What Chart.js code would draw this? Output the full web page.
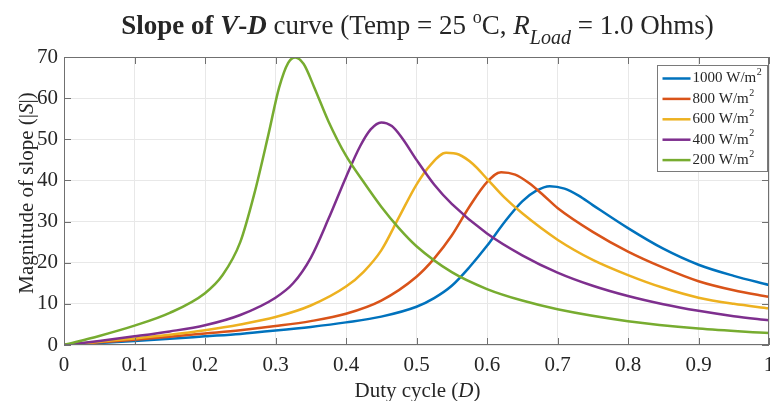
<!DOCTYPE html>
<html>
<head>
<meta charset="utf-8">
<title>Slope of V-D curve</title>
<script src="https://cdn.jsdelivr.net/npm/chart.js@4.4.1/dist/chart.umd.min.js"></script>
<style>
  html, body { margin: 0; padding: 0; background: #fff; overflow: hidden; }
  canvas { display: block; }
</style>
</head>
<body>
<canvas id="slopeChart" width="770" height="401"></canvas>
<script>
// one curve per irradiance level (W/m^2)
const irradiance = [1000, 800, 600, 400, 200];
const lineColors = ['#0072BD', '#D95319', '#EDB120', '#7E2F8E', '#77AC30'];

const duty1000 = [0, 0.05, 0.1, 0.15, 0.2, 0.25, 0.3, 0.35, 0.4, 0.45, 0.5, 0.525, 0.55, 0.575, 0.6, 0.625, 0.65, 0.67, 0.689, 0.71, 0.73, 0.75, 0.8, 0.85, 0.9, 0.95, 1.0];
const slope1000 = [0, 0.5, 1.0, 1.5, 2.1, 2.7, 3.5, 4.4, 5.5, 6.9, 9.3, 11.4, 14.4, 18.9, 24.1, 29.9, 34.9, 37.5, 38.6, 38.0, 36.3, 34.0, 28.4, 23.4, 19.5, 16.8, 14.6];

const duty800 = [0, 0.05, 0.1, 0.15, 0.2, 0.25, 0.3, 0.35, 0.4, 0.45, 0.5, 0.525, 0.55, 0.575, 0.6, 0.62, 0.64, 0.66, 0.68, 0.7, 0.75, 0.8, 0.85, 0.9, 0.95, 1.0];
const slope800 = [0, 0.65, 1.3, 2.0, 2.8, 3.6, 4.6, 5.8, 7.6, 10.8, 16.6, 21.0, 26.6, 33.6, 39.6, 42.0, 41.4, 39.3, 36.4, 33.3, 27.5, 22.7, 18.8, 15.5, 13.3, 11.7];

const duty600 = [0, 0.05, 0.1, 0.15, 0.2, 0.25, 0.3, 0.35, 0.4, 0.425, 0.45, 0.475, 0.5, 0.52, 0.542, 0.56, 0.58, 0.6, 0.625, 0.65, 0.7, 0.75, 0.8, 0.85, 0.9, 0.95, 1.0];
const slope600 = [0, 0.8, 1.6, 2.5, 3.6, 5.0, 6.8, 9.6, 14.2, 17.8, 23.0, 31.0, 39.0, 43.8, 46.7, 46.3, 44.0, 40.4, 35.8, 32.0, 25.6, 20.7, 17.0, 13.9, 11.5, 10.0, 8.9];

const duty400 = [0, 0.05, 0.1, 0.15, 0.2, 0.25, 0.3, 0.325, 0.35, 0.375, 0.4, 0.42, 0.435, 0.45, 0.465, 0.48, 0.5, 0.525, 0.55, 0.6, 0.65, 0.7, 0.75, 0.8, 0.85, 0.9, 0.95, 1.0];
const slope400 = [0, 1.0, 2.1, 3.3, 4.8, 7.3, 11.5, 15.0, 21.2, 30.6, 40.8, 48.3, 52.4, 54.1, 53.2, 50.2, 45.0, 39.0, 34.3, 27.1, 21.8, 17.6, 14.4, 11.9, 9.9, 8.3, 7.0, 6.0];

const duty200 = [0, 0.05, 0.1, 0.15, 0.2, 0.225, 0.25, 0.27, 0.29, 0.305, 0.318, 0.328, 0.34, 0.355, 0.375, 0.4, 0.425, 0.45, 0.475, 0.5, 0.55, 0.6, 0.65, 0.7, 0.8, 0.9, 1.0];
const slope200 = [0, 2.2, 4.7, 7.8, 12.6, 17.0, 25.0, 36.8, 51.2, 62.5, 68.6, 69.9, 68.3, 62.6, 54.4, 46.0, 39.6, 33.6, 28.4, 24.0, 17.7, 13.6, 10.8, 8.7, 5.8, 4.0, 2.9];

const dutyTicks = [0, 0.1, 0.2, 0.3, 0.4, 0.5, 0.6, 0.7, 0.8, 0.9, 1];
const slopeTicks = [0, 10, 20, 30, 40, 50, 60, 70];

const curves = [
  [duty1000, slope1000],
  [duty800, slope800],
  [duty600, slope600],
  [duty400, slope400],
  [duty200, slope200],
];

const SERIF = "'Liberation Serif', 'Times New Roman', serif";
const INK = '#262626';

const titleRuns = [
  { text: 'Slope of ', style: 'bold', size: 27 },
  { text: 'V', style: 'italic bold', size: 27 },
  { text: '-', style: 'bold', size: 27 },
  { text: 'D', style: 'italic bold', size: 27 },
  { text: ' curve (Temp = 25 ', style: '', size: 27 },
  { text: 'o', style: '', size: 18, rise: 11 },
  { text: 'C, ', style: '', size: 27 },
  { text: 'R', style: 'italic', size: 27 },
  { text: 'Load', style: 'italic', size: 20, rise: -10 },
  { text: ' = 1.0 Ohms)', style: '', size: 27 },
];
const xTitleRuns = [
  { text: 'Duty cycle (', style: '', size: 21 },
  { text: 'D', style: 'italic', size: 21 },
  { text: ')', style: '', size: 21 },
];
const yTitleRuns = [
  { text: 'Magnitude of slope (|', style: '', size: 21 },
  { text: 'S', style: 'italic', size: 21 },
  { text: '|)', style: '', size: 21 },
];

function fontOf(style, size) {
  return `${style} ${size}px ${SERIF}`.trim();
}

// one line of mixed-style text, centred on cx, sitting on the given baseline
function drawRuns(ctx, runs, cx, baseline, vertical) {
  ctx.save();
  ctx.translate(cx, baseline);
  if (vertical) ctx.rotate(-Math.PI / 2);
  let total = 0;
  runs.forEach(r => {
    ctx.font = fontOf(r.style, r.size);
    total += ctx.measureText(r.text).width;
  });
  let x = -total / 2;
  ctx.textAlign = 'left';
  ctx.textBaseline = 'alphabetic';
  ctx.fillStyle = INK;
  runs.forEach(r => {
    ctx.font = fontOf(r.style, r.size);
    ctx.fillText(r.text, x, -(r.rise || 0));
    x += ctx.measureText(r.text).width;
  });
  ctx.restore();
}

// matlab style axes box with inward ticks, legend and titles
const axesDecor = {
  id: 'axesDecor',
  afterDatasetsDraw(chart) {
    const { ctx, chartArea: a, scales: { x, y } } = chart;
    ctx.save();
    ctx.strokeStyle = '#707070';
    ctx.lineWidth = 1;
    ctx.beginPath();
    dutyTicks.forEach(v => {
      const px = Math.round(x.getPixelForValue(v)) + 0.5;
      ctx.moveTo(px, a.bottom); ctx.lineTo(px, a.bottom - 7);
      ctx.moveTo(px, a.top); ctx.lineTo(px, a.top + 7);
    });
    slopeTicks.forEach(v => {
      const py = Math.round(y.getPixelForValue(v)) + 0.5;
      ctx.moveTo(a.left, py); ctx.lineTo(a.left + 7, py);
      ctx.moveTo(a.right, py); ctx.lineTo(a.right - 7, py);
    });
    ctx.stroke();
    ctx.strokeRect(a.left + 0.5, a.top + 0.5, a.right - a.left - 1, a.bottom - a.top - 1);

    // legend
    const box = { left: a.right - 111.5, top: a.top + 8.5, w: 110, h: 106 };
    ctx.fillStyle = '#fff';
    ctx.fillRect(box.left, box.top, box.w, box.h);
    ctx.strokeStyle = '#7a7a7a';
    ctx.strokeRect(box.left, box.top, box.w, box.h);
    chart.data.datasets.forEach((ds, i) => {
      const rowY = box.top + 13 + i * 20.4;
      ctx.strokeStyle = ds.borderColor;
      ctx.lineWidth = 2.5;
      ctx.beginPath();
      ctx.moveTo(box.left + 5, rowY);
      ctx.lineTo(box.left + 33, rowY);
      ctx.stroke();
      ctx.fillStyle = INK;
      ctx.textAlign = 'left';
      ctx.textBaseline = 'middle';
      ctx.font = fontOf('', 15);
      const base = `${irradiance[i]} W/m`;
      ctx.fillText(base, box.left + 35, rowY);
      const w = ctx.measureText(base).width;
      ctx.font = fontOf('', 10);
      ctx.fillText('2', box.left + 35 + w + 0.5, rowY - 6);
    });
    ctx.restore();
  },
  afterDraw(chart) {
    const { ctx, chartArea: a } = chart;
    const cx = (a.left + a.right) / 2;
    drawRuns(ctx, titleRuns, cx + 1, 34, false);
    drawRuns(ctx, xTitleRuns, cx + 1, 397, false);
    drawRuns(ctx, yTitleRuns, 33, 193, true);
  }
};

const datasets = curves.map(([duty, slope], i) => ({
  label: `${irradiance[i]} W/m²`,
  data: duty.map((d, k) => ({ x: d, y: slope[k] })),
  borderColor: lineColors[i],
  borderWidth: 2.5,
  pointRadius: 0,
  fill: false,
  cubicInterpolationMode: 'monotone',
  order: curves.length - i,
}));

const gridStyle = { color: '#e8e8e8', lineWidth: 1, drawTicks: false };

new Chart(document.getElementById('slopeChart'), {
  type: 'line',
  data: { datasets },
  options: {
    responsive: false,
    animation: false,
    devicePixelRatio: 1,
    layout: { padding: { top: 57, right: 1, bottom: 0, left: 0 } },
    plugins: {
      legend: { display: false },
      title: { display: false },
      tooltip: { enabled: false },
    },
    scales: {
      x: {
        type: 'linear',
        min: 0,
        max: 1,
        grid: gridStyle,
        border: { display: false },
        afterBuildTicks: s => { s.ticks = dutyTicks.map(v => ({ value: v })); },
        afterFit: s => { s.height = 56; s.paddingLeft = 0; s.paddingRight = 0; },
        ticks: {
          padding: 8,
          maxRotation: 0,
          autoSkip: false,
          color: INK,
          font: { family: SERIF, size: 21 },
          callback: v => String(v),
        },
      },
      y: {
        type: 'linear',
        min: 0,
        max: 70,
        grid: gridStyle,
        border: { display: false },
        afterBuildTicks: s => { s.ticks = slopeTicks.map(v => ({ value: v })); },
        afterFit: s => { s.width = 64; s.paddingTop = 0; s.paddingBottom = 0; },
        ticks: {
          padding: 6,
          color: INK,
          font: { family: SERIF, size: 21 },
          callback: v => String(v),
        },
      },
    },
  },
  plugins: [axesDecor],
});
</script>
</body>
</html>
